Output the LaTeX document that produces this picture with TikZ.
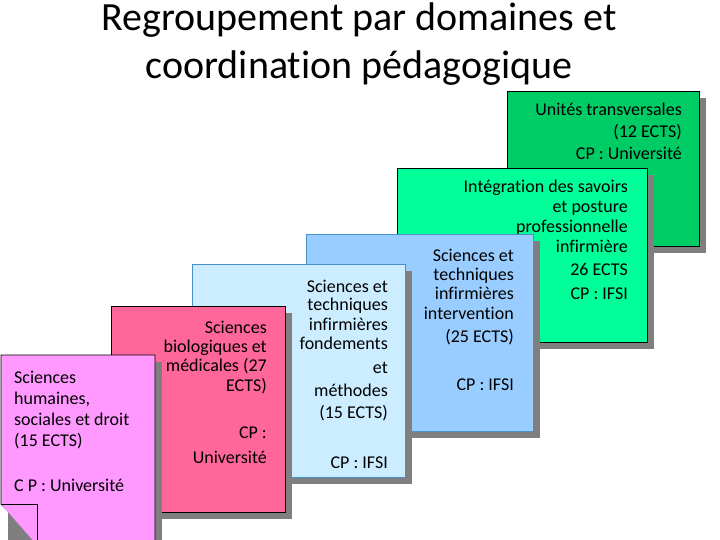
\documentclass[tikz,border=0pt]{standalone}
\usepackage{fontspec}
\setmainfont{Carlito}[Ligatures={NoCommon}]
\definecolor{gA}{HTML}{00CC66}
\definecolor{gB}{HTML}{00FF99}
\definecolor{bA}{HTML}{99CCFF}
\definecolor{bB}{HTML}{CCECFF}
\definecolor{pk}{HTML}{FF6699}
\definecolor{vi}{HTML}{FF99FF}
\definecolor{bl}{HTML}{4A90C8}
\definecolor{sh}{HTML}{7F7F7F}
\tikzset{
  card/.style={line width=0.8pt},
  shad/.style={fill=sh,draw=none},
  txt/.style={font=\fontsize{18}{20}\selectfont,inner sep=0pt,anchor=base east},
  txtl/.style={font=\fontsize{18}{20}\selectfont,inner sep=0pt,anchor=base west},
}
\newcommand{\cardbox}[6]{% x1 y1 x2 y2 fill border
  \fill[shad] (#1+7,#2+7) rectangle (#3+7,#4+7);
  \draw[card,fill=#5,draw=#6] (#1,#2) rectangle (#3,#4);
}
\begin{document}
\begin{tikzpicture}[x=1pt,y=-1pt]
\useasboundingbox (0,0) rectangle (720,540);
% title
\node[font=\fontsize{40}{48}\selectfont,align=center,inner sep=0pt] (title) at (359,44) {Regroupement par domaines et\\coordination pédagogique};
% box 1
\cardbox{507}{91}{699}{246}{gA}{black}
\node[txt] (a1) at (682,116) {Unités transversales};
\node[txt] (a2) at (682,138) {(12 ECTS)};
\node[txt] (a3) at (682,160) {CP : Université};
% box 2
\cardbox{397}{168}{647}{342}{gB}{black}
\node[txt] (b1) at (628,193) {Intégration des savoirs};
\node[txt] (b2) at (628,213) {et posture};
\node[txt] (b3) at (628,233) {professionnelle};
\node[txt] (b4) at (628,252) {infirmière};
\node[txt] (b5) at (628,275) {26 ECTS};
\node[txt] (b6) at (628,299) {CP : IFSI};
% box 3
\cardbox{306}{234}{533}{431}{bA}{bl}
\node[txt] (c1) at (514,261) {Sciences et};
\node[txt] (c2) at (514,280) {techniques};
\node[txt] (c3) at (514,299) {infirmières};
\node[txt] (c4) at (514,319) {intervention};
\node[txt] (c5) at (514,342) {(25 ECTS)};
\node[txt] (c6) at (514,390) {CP : IFSI};
% box 4
\cardbox{192}{264}{405}{477}{bB}{bl}
\node[txt] (d1) at (388,292) {Sciences et};
\node[txt] (d2) at (388,310) {techniques};
\node[txt] (d3) at (388,330) {infirmières};
\node[txt] (d4) at (388,349) {fondements};
\node[txt] (d5) at (388,373) {et};
\node[txt] (d6) at (388,396) {méthodes};
\node[txt] (d7) at (388,418) {(15 ECTS)};
\node[txt] (d8) at (388,468) {CP : IFSI};
% box 5
\cardbox{111}{306}{285}{512}{pk}{black}
\node[txt] (e1) at (267,333) {Sciences};
\node[txt] (e2) at (267,352) {biologiques et};
\node[txt] (e3) at (267,371) {médicales (27};
\node[txt] (e4) at (267,391) {ECTS)};
\node[txt] (e5) at (267,438) {CP :};
\node[txt] (e6) at (267,463) {Université};
% box 6 (folded corner)
\fill[shad] (8,362) -- (162,362) -- (162,547) -- (8,547) -- cycle;
\draw[card,fill=vi,draw=black] (1,504) -- (1,355) -- (155,355) -- (155,545) -- (41,545) -- (37,540) -- cycle;
\draw[card,fill=vi,draw=black] (1,504) -- (37,504) -- (37,545);
\node[txtl] (f1) at (14,383) {Sciences};
\node[txtl] (f2) at (14,404) {humaines,};
\node[txtl] (f3) at (14,425) {sociales et droit};
\node[txtl] (f4) at (14,446) {(15 ECTS)};
\node[txtl] (f5) at (14,491) {C P : Université};
\end{tikzpicture}
\end{document}
